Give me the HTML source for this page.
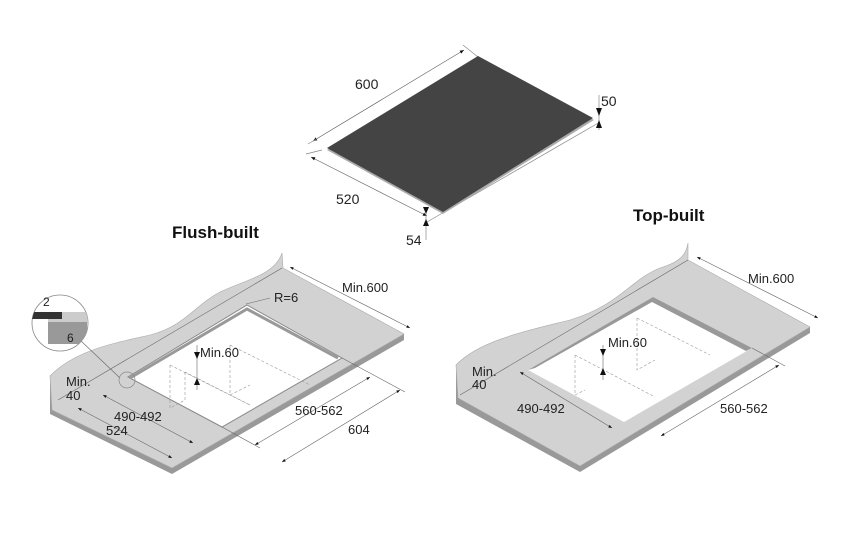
<!DOCTYPE html>
<html><head><meta charset="utf-8"><style>
html,body{margin:0;padding:0;background:#fff;}
svg{display:block;font-family:"Liberation Sans",sans-serif;}
</style></head><body>
<svg width="862" height="559" viewBox="0 0 862 559" xmlns="http://www.w3.org/2000/svg">
<defs>
<marker id="a" viewBox="0 0 10 10" refX="10" refY="5" markerWidth="6" markerHeight="6" orient="auto-start-reverse"><path d="M0,1 L10,5 L0,9 Z" fill="#111"/></marker>
</defs>
<g stroke="#888" stroke-width="0.7" fill="none">
<line x1="313" y1="141" x2="464" y2="50" marker-start="url(#a)" marker-end="url(#a)" stroke="#666"/>
<line x1="308" y1="144" x2="320" y2="137"/>
<line x1="463" y1="45" x2="478" y2="57"/>
<line x1="311" y1="157" x2="427" y2="216" marker-start="url(#a)" marker-end="url(#a)" stroke="#666"/>
<line x1="306" y1="154" x2="322" y2="150"/>
<line x1="427" y1="222" x2="600" y2="122"/>
<line x1="599" y1="95" x2="599" y2="130"/>
<line x1="426" y1="210" x2="426" y2="240"/>
</g>
<polygon points="327,150 478,58 594,120 443,214" fill="#aaa"/>
<polygon points="327,148 478,56 593,118 443,212" fill="#444"/>
<g fill="#111">
<path d="M596,108 L602,108 L599,116Z"/><path d="M596,128 L602,128 L599,120Z"/>
<path d="M423,207 L429,207 L426,214Z"/><path d="M423,226 L429,226 L426,219Z"/>
</g>
<g font-size="14" fill="#222">
<text x="355" y="89">600</text>
<text x="336" y="204">520</text>
<text x="601" y="106">50</text>
<text x="406" y="245">54</text>
<text x="172" y="238" font-weight="bold" font-size="17" fill="#111">Flush-built</text>
<text x="633" y="221" font-weight="bold" font-size="17" fill="#111">Top-built</text>
</g>

<!-- LEFT COUNTER -->
<polygon points="50,376 50,414 172,474 404,340 404,334 172,468 54,410" fill="#999"/>
<path d="M50,376 C75,350 115,343 150,335 C185,326 195,305 220,292 C245,280 275,275 282,253 L283,268 L404,334 L172,468 L52,410 Z" fill="#d2d2d2" stroke="#aaa" stroke-width="0.6"/>
<polygon points="247,305 342,358 222,427 128,377" fill="#fff" stroke="#888" stroke-width="1"/>
<polyline points="130,378 247,309 338,358" fill="none" stroke="#999" stroke-width="3"/>
<g stroke="#999" stroke-width="0.6" fill="none" stroke-dasharray="3,2">
<polyline points="170,365 170,408 185,400 185,372"/><polyline points="230,345 230,395 250,385"/>
<line x1="185" y1="372" x2="250" y2="405"/><line x1="230" y1="345" x2="310" y2="385"/>
<line x1="170" y1="365" x2="250" y2="405"/>
</g>
<g stroke="#666" stroke-width="0.6" fill="none">
<line x1="58" y1="400" x2="282" y2="268"/>
<line x1="103" y1="395" x2="193" y2="443" marker-start="url(#a)" marker-end="url(#a)"/>
<line x1="78" y1="408" x2="172" y2="458" marker-start="url(#a)" marker-end="url(#a)"/>
<line x1="255" y1="445" x2="370" y2="377" marker-start="url(#a)" marker-end="url(#a)"/>
<line x1="282" y1="462" x2="400" y2="390" marker-start="url(#a)" marker-end="url(#a)"/>
<line x1="290" y1="267" x2="410" y2="328" marker-start="url(#a)" marker-end="url(#a)"/>
<line x1="342" y1="358" x2="405" y2="392"/>
<line x1="222" y1="427" x2="260" y2="448"/>
<line x1="246" y1="304" x2="270" y2="298"/>
<line x1="197" y1="345" x2="197" y2="390"/>
<line x1="80" y1="340" x2="120" y2="378"/>
</g>
<circle cx="127" cy="380" r="8" fill="none" stroke="#888" stroke-width="0.7"/>
<g fill="#111"><path d="M194,352 L200,352 L197,359Z"/><path d="M194,385 L200,385 L197,378Z"/></g>
<g font-size="13" fill="#222">
<text x="274" y="302">R=6</text>
<text x="342" y="292">Min.600</text>
<text x="200" y="357">Min.60</text>
<text x="66" y="386">Min.</text><text x="66" y="400">40</text>
<text x="114" y="421">490-492</text><text x="106" y="435">524</text>
<text x="295" y="415">560-562</text><text x="348" y="434">604</text>
</g>
<circle cx="60" cy="323" r="28" fill="#fff" stroke="#888" stroke-width="0.8"/>
<clipPath id="c"><circle cx="60" cy="323" r="28"/></clipPath>
<g clip-path="url(#c)">
<rect x="48" y="312" width="42" height="11" fill="#ccc"/>
<rect x="48" y="322" width="39" height="22" fill="#999"/>
<rect x="30" y="312" width="32" height="7" fill="#333"/>
</g>
<g font-size="12" fill="#222"><text x="43" y="306">2</text><text x="67" y="342">6</text></g>

<!-- RIGHT COUNTER -->
<polygon points="456,365 456,404 580,472 810,333 810,327 580,466 460,398" fill="#999"/>
<path d="M456,365 C480,340 530,330 570,320 C620,305 630,280 660,268 C680,262 686,255 688,243 L688,260 L810,327 L580,466 L458,398 Z" fill="#d2d2d2" stroke="#aaa" stroke-width="0.6"/>
<polygon points="653,297 752,348 624,422 528,370" fill="#fff"/>
<polygon points="653,297 752,348 746,351 652,302 535,368 528,370" fill="#999"/>
<g stroke="#999" stroke-width="0.6" fill="none" stroke-dasharray="3,2">
<polyline points="575,355 575,395 585,390"/><polyline points="637,318 637,370 655,360"/>
<line x1="575" y1="355" x2="655" y2="397"/><line x1="637" y1="318" x2="710" y2="355"/>
</g>
<g stroke="#666" stroke-width="0.6" fill="none">
<line x1="460" y1="395" x2="688" y2="260"/>
<line x1="520" y1="372" x2="612" y2="428" marker-start="url(#a)" marker-end="url(#a)"/>
<line x1="661" y1="436" x2="779" y2="365" marker-start="url(#a)" marker-end="url(#a)"/>
<line x1="697" y1="257" x2="818" y2="318" marker-start="url(#a)" marker-end="url(#a)"/>
<line x1="752" y1="348" x2="785" y2="366"/>
<line x1="603" y1="345" x2="603" y2="380"/>
</g>
<g fill="#111"><path d="M600,349 L606,349 L603,356Z"/><path d="M600,375 L606,375 L603,368Z"/></g>
<g font-size="13" fill="#222">
<text x="748" y="283">Min.600</text>
<text x="608" y="347">Min.60</text>
<text x="472" y="376">Min.</text><text x="472" y="389">40</text>
<text x="517" y="413">490-492</text>
<text x="720" y="413">560-562</text>
</g>
</svg>
</body></html>
